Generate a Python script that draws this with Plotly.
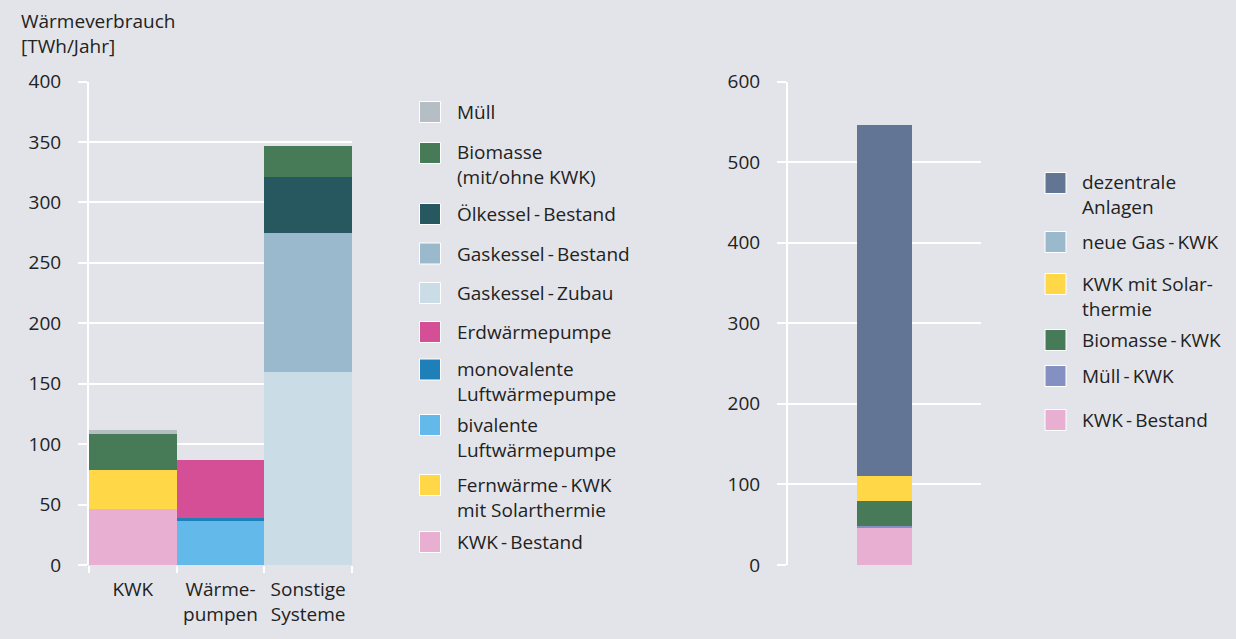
import plotly.graph_objects as go

# ---------------- data ----------------
categories_left = ["KWK", "Wärme-<br>pumpen", "Sonstige<br>Systeme"]

left_names = [
    "KWK\u2009-\u2009Bestand",
    "Fernwärme\u2009-\u2009KWK<br>mit Solarthermie",
    "bivalente<br>Luftwärmepumpe",
    "monovalente<br>Luftwärmepumpe",
    "Erdwärmepumpe",
    "Gaskessel\u2009-\u2009Zubau",
    "Gaskessel\u2009-\u2009Bestand",
    "Ölkessel\u2009-\u2009Bestand",
    "Biomasse<br>(mit/ohne KWK)",
    "Müll",
]
kwk_bestand = [47, 0, 0]
fernwaerme_kwk_solar = [32, 0, 0]
bivalente_lwp = [0, 37, 0]
monovalente_lwp = [0, 2, 0]
erdwaermepumpe = [0, 48, 0]
gaskessel_zubau = [0, 0, 160]
gaskessel_bestand = [0, 0, 115]
oelkessel_bestand = [0, 0, 46]
biomasse = [30, 0, 26]
muell = [3.5, 0, 0]
left_values = [kwk_bestand, fernwaerme_kwk_solar, bivalente_lwp, monovalente_lwp,
               erdwaermepumpe, gaskessel_zubau, gaskessel_bestand, oelkessel_bestand,
               biomasse, muell]
left_colors = ["#E8AFD3", "#FFD747", "#63B9E9", "#1F80B9", "#D44F96",
               "#CADCE6", "#9BB9CC", "#275860", "#477A56", "#B5BDC5"]

categories_right = ["Fernwärme"]
right_names = [
    "KWK\u2009-\u2009Bestand",
    "Müll\u2009-\u2009KWK",
    "Biomasse\u2009-\u2009KWK",
    "KWK mit Solar-<br>thermie",
    "neue Gas\u2009-\u2009KWK",
    "dezentrale<br>Anlagen",
]
r_kwk_bestand = [46]
r_muell_kwk = [3.5]
r_biomasse_kwk = [31]
r_kwk_solar = [30]
r_neue_gas_kwk = [0]
r_dezentrale = [436]
right_values = [r_kwk_bestand, r_muell_kwk, r_biomasse_kwk, r_kwk_solar,
                r_neue_gas_kwk, r_dezentrale]
right_colors = ["#E8AFD3", "#8490C1", "#477A56", "#FFD747", "#9BB9CC", "#627594"]

left_ticks = [0, 50, 100, 150, 200, 250, 300, 350, 400]
right_ticks = [0, 100, 200, 300, 400, 500, 600]

# ---------------- figure ----------------
W, H = 1236, 639
BG = "#E3E4E9"
TXT = "#222222"
FONT = "Open Sans"
FS = 19

# layout: legend row positions (pixels from top, first line of each entry, top -> bottom)
legend_left_rows = [112, 153, 214, 253.5, 293, 332, 369.5, 425, 485, 542]
legend_right_rows = [183, 242, 284, 340, 376, 420]


def px(x):
    return x / W


def py(y):
    return 1 - y / H


fig = go.Figure()
for name, vals, col in zip(left_names, left_values, left_colors):
    fig.add_trace(go.Bar(x=categories_left, y=vals, name=name, marker_color=col,
                         marker_line_width=0, xaxis="x", yaxis="y",
                         showlegend=False))
for name, vals, col in zip(right_names, right_values, right_colors):
    fig.add_trace(go.Bar(x=categories_right, y=vals, name=name, marker_color=col,
                         marker_line_width=0, xaxis="x2", yaxis="y2", width=0.285,
                         showlegend=False))

yax_common = dict(showline=True, linecolor="white", linewidth=2,
                  showgrid=True, gridcolor="white", gridwidth=2,
                  ticks="outside", ticklen=9, tickcolor="white", tickwidth=2,
                  zeroline=False, tickfont=dict(family=FONT, size=FS, color=TXT),
                  ticklabelstandoff=13, fixedrange=True, automargin=False)

y_bot, y_top = py(565), py(81.5)

fig.update_layout(
    width=W, height=H, autosize=False,
    margin=dict(l=0, r=0, t=0, b=0, pad=0),
    paper_bgcolor=BG, plot_bgcolor=BG,
    barmode="stack", bargap=0,
    font=dict(family=FONT, size=FS, color=TXT),
    xaxis=dict(domain=[px(89), px(352)], type="category", range=[-0.5, 2.5],
               showline=False, showgrid=False, zeroline=False,
               ticks="outside", tickson="boundaries", ticklen=7,
               tickcolor="white", tickwidth=2,
               tickfont=dict(family=FONT, size=FS, color=TXT),
               ticklabelstandoff=11, anchor="y", fixedrange=True, automargin=False),
    yaxis=dict(domain=[y_bot, y_top], range=[0, 400], tickvals=left_ticks,
               anchor="x", **yax_common),
    xaxis2=dict(domain=[px(788), px(981)], type="category", range=[-0.5, 0.5],
                showline=False, showgrid=False, zeroline=False,
                showticklabels=False, ticks="", anchor="y2", fixedrange=True,
                automargin=False),
    yaxis2=dict(domain=[y_bot, y_top], range=[0, 600], tickvals=right_ticks,
                anchor="x2", **yax_common),
)

annotations = []
shapes = []

annotations.append(dict(text="Wärmeverbrauch<br>[TWh/Jahr]", xref="paper", yref="paper",
                        x=px(19), y=py(33.5), xanchor="left", yanchor="middle",
                        align="left", showarrow=False,
                        font=dict(family=FONT, size=FS, color=TXT)))

LINE = 24


def legend(names, colors, rows, sw_x, txt_x):
    for name, col, y in zip(names, colors, rows):
        n = name.count("<br>") + 1
        shapes.append(dict(type="rect", xref="paper", yref="paper",
                           x0=px(sw_x), x1=px(sw_x + 21),
                           y0=py(y - 10.5), y1=py(y + 10.5),
                           fillcolor=col, line=dict(color="white", width=1)))
        annotations.append(dict(text=name, xref="paper", yref="paper",
                                x=px(txt_x), y=py(y + (n - 1) * LINE / 2),
                                xanchor="left", yanchor="middle", align="left",
                                showarrow=False,
                                font=dict(family=FONT, size=FS, color=TXT)))


legend(left_names[::-1], left_colors[::-1], legend_left_rows, 419.5, 455)
legend(right_names[::-1], right_colors[::-1], legend_right_rows, 1045, 1080)

fig.update_layout(annotations=annotations, shapes=shapes)

fig.write_html(
    "out.html",
    config={"displayModeBar": False, "responsive": False},
    post_script=(
        "document.documentElement.style.margin='0';"
        "document.body.style.margin='0';"
        "document.documentElement.style.overflow='hidden';"
        "document.body.style.overflow='hidden';"
    ),
)
